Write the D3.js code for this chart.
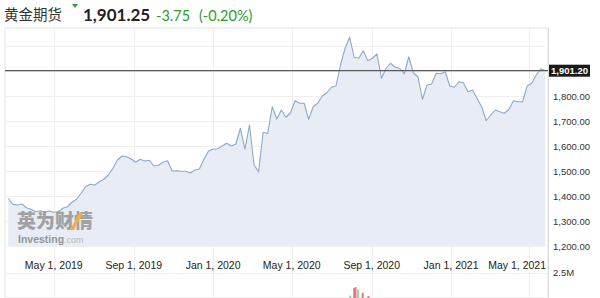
<!DOCTYPE html>
<html><head><meta charset="utf-8">
<script src="https://cdn.jsdelivr.net/npm/d3@7"></script>
<style>
body{margin:0;background:#fff;}
svg{display:block;}
</style></head>
<body><svg id="c" width="600" height="298"></svg>
<script>
// ---- data ----
const startDate = "2019-02-20"; // first weekly close
const prices = [
1391,1367,1364,1368,1353,1347,1337,1341,1335,1340,1335,1337,1351,1357,1375,1387,1411,1437,1447,1444,1457,1467,1484,1511,1544,
1560,
1557,1548,1535,1547,1540,1543,1520,1523,1535,1541,1500,1501,1499,1499,1492,1504,1508,1547,1580,1587,1589,1600,1611,1600,1608,1671,1587,1684,1524,1497,1655,1650,1757,1708,
1744,1715,1733,1781,1771,1771,1707,1757,1771,1800,1813,1835,1840,
1924,1991,2035,1955,1951,1981,1941,1951,1968,1871,1911,1931,1915,1911,1888,1957,1893,1877,1787,1844,1848,1891,1889,1897,
1840,1835,1857,1853,1817,1824,1790,1757,1701,1724,1744,1737,1731,1747,1781,1777,1777,1840,1851,1884,1909,1901.2];
const lastPrice = 1901.20;
const xTickDates = ["2019-05-01","2019-09-01","2020-01-01","2020-05-01","2020-09-01","2021-01-01","2021-05-01"];
const xTickLabels = ["May 1, 2019","Sep 1, 2019","Jan 1, 2020","May 1, 2020","Sep 1, 2020","Jan 1, 2021","May 1, 2021"];
const yTicks = [1200,1300,1400,1500,1600,1700,1800];
const yGrid = [1200,1300,1400,1500,1600,1700,1800,1900,2000];
const volDates = ["2020-07-30","2020-08-05","2020-08-07","2020-08-11","2020-08-18","2020-08-27","2020-09-16"];
const volValues = [1.3e6,1.7e6,1.75e6,1.62e6,1.45e6,1.28e6,1.15e6];
const volUp = [true,false,false,true,false,false,false];
const titleName = "黄金期货";
const titlePrice = "1,901.25";
const titleChange = "-3.75";
const titlePct = "(-0.20%)";

// ---- layout ----
const L = 5, R = 546, T = 28, B = 246;
const svg = d3.select("#c");
const parse = d3.utcParse("%Y-%m-%d");
const s0 = parse(startDate);
const dates = prices.map((_, i) => d3.utcDay.offset(s0, 7 * i));
const x = d3.scaleUtc().domain([parse("2019-02-15"), parse("2021-05-27")]).range([L, R]);
const y = d3.scaleLinear().domain([1200, 2072]).range([B, T]);
const yv = d3.scaleLinear().domain([0, 2.5e6]).range([320, 273]);

// frame
svg.append("rect").attr("x", L).attr("y", T).attr("width", 548 - L).attr("height", 298 - T)
  .attr("fill", "#fff").attr("stroke", "#e4e4e4").attr("stroke-width", 1);

// grid
svg.append("g").selectAll("line").data(yGrid).join("line")
  .attr("x1", L).attr("x2", R).attr("y1", d => Math.round(y(d)) + 0.5).attr("y2", d => Math.round(y(d)) + 0.5)
  .attr("stroke", "#efefef");
svg.append("g").selectAll("line").data(xTickDates).join("line")
  .attr("x1", d => Math.round(x(parse(d))) + 0.5).attr("x2", d => Math.round(x(parse(d))) + 0.5)
  .attr("y1", T).attr("y2", 298).attr("stroke", "#efefef");
svg.append("line").attr("x1", L).attr("x2", 548).attr("y1", 273.5).attr("y2", 273.5).attr("stroke", "#f0f0f0");

// area + line
const area = d3.area().x((d, i) => x(dates[i])).y0(B).y1(d => y(d));
const line = d3.line().x((d, i) => x(dates[i])).y(d => y(d));
svg.append("path").datum(prices).attr("d", area).attr("fill", "#e8edf5");
svg.append("path").datum(prices).attr("d", line).attr("fill", "none")
  .attr("stroke", "#8fa7c8").attr("stroke-width", 1.1).attr("stroke-linejoin", "round");

// watermark
const wm = svg.append("g").attr("opacity", 0.78);
wm.append("text").attr("x", 17).attr("y", 228).text("英为财情")
  .attr("font-family", "Noto Sans CJK SC").attr("font-weight", 900).attr("font-size", 19)
  .attr("fill", "#8c8c8c");
wm.append("path").attr("d", "M70,230 L74,230 L83,213 L79,213 Z").attr("fill", "#f0a020");
const inv = wm.append("text").attr("x", 18).attr("y", 243).attr("font-family", "Liberation Sans").attr("font-size", 10.5);
inv.append("tspan").text("Investing").attr("font-weight", "bold").attr("fill", "#7d7d7d");
inv.append("tspan").text(".com").attr("fill", "#a8a8a8").attr("font-size", 9);

// volume bars
svg.append("g").selectAll("rect").data(volValues).join("rect")
  .attr("x", (d, i) => x(parse(volDates[i])) - 1).attr("width", 2)
  .attr("y", d => yv(d)).attr("height", d => 320 - yv(d))
  .attr("fill", (d, i) => volUp[i] ? "#9fcf9f" : "#e07c7c");

// last price line
svg.append("line").attr("x1", L).attr("x2", 548).attr("y1", y(lastPrice)).attr("y2", y(lastPrice))
  .attr("stroke", "#5a5a5a").attr("stroke-width", 1.3);

// right border
svg.append("line").attr("x1", 548.5).attr("x2", 548.5).attr("y1", T).attr("y2", 298).attr("stroke", "#dcdcdc");

// y axis labels
const ya = svg.append("g").attr("transform", "translate(553,0)")
  .call(d3.axisRight(y).tickValues(yTicks).tickSize(0).tickPadding(0).tickFormat(d3.format(",.2f")));
ya.select(".domain").remove();
ya.selectAll("text").attr("font-family", "Liberation Sans").attr("font-size", 9.5).attr("fill", "#333");

// price box
svg.append("rect").attr("x", 549).attr("y", y(lastPrice) - 6).attr("width", 41).attr("height", 12).attr("fill", "#1a1a1a");
svg.append("text").attr("x", 569.5).attr("y", y(lastPrice)).attr("dy", "0.35em").attr("text-anchor", "middle")
  .text(d3.format(",.2f")(lastPrice)).attr("font-family", "Liberation Sans").attr("font-weight", "bold")
  .attr("font-size", 9.5).attr("fill", "#fff");

// volume label
svg.append("text").attr("x", 553).attr("y", yv(2.5e6)).attr("dy", "0.35em").text("2.5M")
  .attr("font-family", "Liberation Sans").attr("font-size", 9.5).attr("fill", "#333");

// x axis labels
const xl = svg.append("g");
xTickDates.forEach((d, i) => {
  const t = xl.append("text").attr("y", 265).attr("dy", "0.35em").text(xTickLabels[i])
    .attr("font-family", "Liberation Sans").attr("font-size", 10.5).attr("fill", "#222");
  const w = t.node().getComputedTextLength();
  let cx = x(parse(d)) - w / 2;
  if (cx + w > R) cx = R - w;
  t.attr("x", cx);
});

// title
svg.append("text").attr("x", 4).attr("y", 20).text(titleName)
  .attr("font-family", "Noto Sans CJK SC").attr("font-size", 14.5).attr("fill", "#333");
svg.append("path").attr("d", "M72,4 L78,4 L75,8 Z").attr("fill", "#3a9a3a");
svg.append("text").attr("x", 83).attr("y", 20.5).text(titlePrice)
  .attr("font-family", "Lato").attr("font-weight", "bold").attr("font-size", 17).attr("fill", "#222");
svg.append("text").attr("x", 156).attr("y", 20.5).text(titleChange)
  .attr("font-family", "Lato").attr("font-size", 14.5).attr("fill", "#2e9a2e");
svg.append("text").attr("x", 199).attr("y", 20.5).text(titlePct)
  .attr("font-family", "Lato").attr("font-size", 14.5).attr("fill", "#2e9a2e");
</script></body></html>
